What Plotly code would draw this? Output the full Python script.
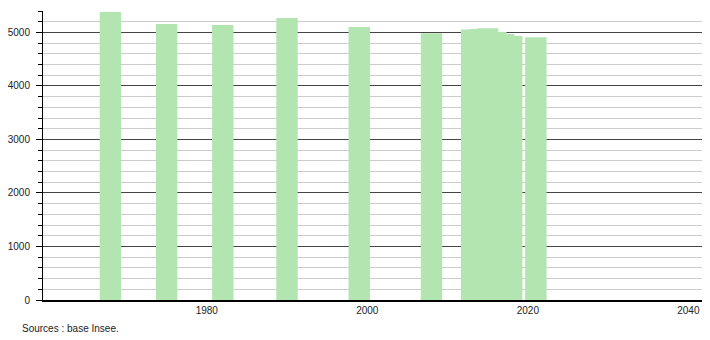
import plotly.graph_objects as go

years = [1968, 1975, 1982, 1990, 1999, 2008, 2013, 2014, 2015, 2016, 2017, 2018, 2021]
population = [5383, 5159, 5140, 5271, 5103, 4985, 5056, 5065, 5078, 5008, 4972, 4935, 4908]
x_ticks = [1980, 2000, 2020, 2040]
y_ticks = [0, 1000, 2000, 3000, 4000, 5000]
source_text = "Sources : base Insee."

FONT = "Liberation Sans, Arial, sans-serif"

fig = go.Figure()
fig.add_trace(go.Bar(
    x=years,
    y=population,
    width=[2.67] * len(years),
    marker=dict(color="#b3e5b1", line=dict(width=0)),
    hoverinfo="x+y",
))

fig.update_layout(
    width=710,
    height=340,
    margin=dict(l=43, r=8, t=11, b=40),
    paper_bgcolor="white",
    plot_bgcolor="white",
    showlegend=False,
    font=dict(family=FONT, size=10, color="#222"),
    xaxis=dict(
        range=[1959.6, 2041.7],
        tickvals=x_ticks,
        ticktext=[str(v) for v in x_ticks],
        showgrid=False,
        zeroline=False,
        showline=True,
        linecolor="black",
        linewidth=1.5,
        ticks="",
        tickfont=dict(family=FONT, size=10, color="#222"),
    ),
    yaxis=dict(
        range=[0, 5400],
        tickvals=y_ticks,
        showgrid=True,
        gridcolor="#444444",
        gridwidth=1,
        zeroline=False,
        showline=True,
        linecolor="black",
        linewidth=1,
        ticks="outside",
        ticklen=6,
        tickcolor="black",
        ticklabelstandoff=4,
        tickfont=dict(family=FONT, size=10, color="#222"),
        minor=dict(
            dtick=200,
            tick0=0,
            showgrid=True,
            gridcolor="#cccccc",
            gridwidth=1,
            ticks="outside",
            ticklen=4,
            tickcolor="black",
        ),
    ),
    annotations=[
        dict(
            text=source_text,
            xref="paper", yref="paper",
            x=(20 - 43) / 659, y=-(328 - 300) / 289,
            xanchor="left", yanchor="middle",
            showarrow=False,
            font=dict(family=FONT, size=10, color="#222"),
        )
    ],
)

fig.write_html("out.html")
